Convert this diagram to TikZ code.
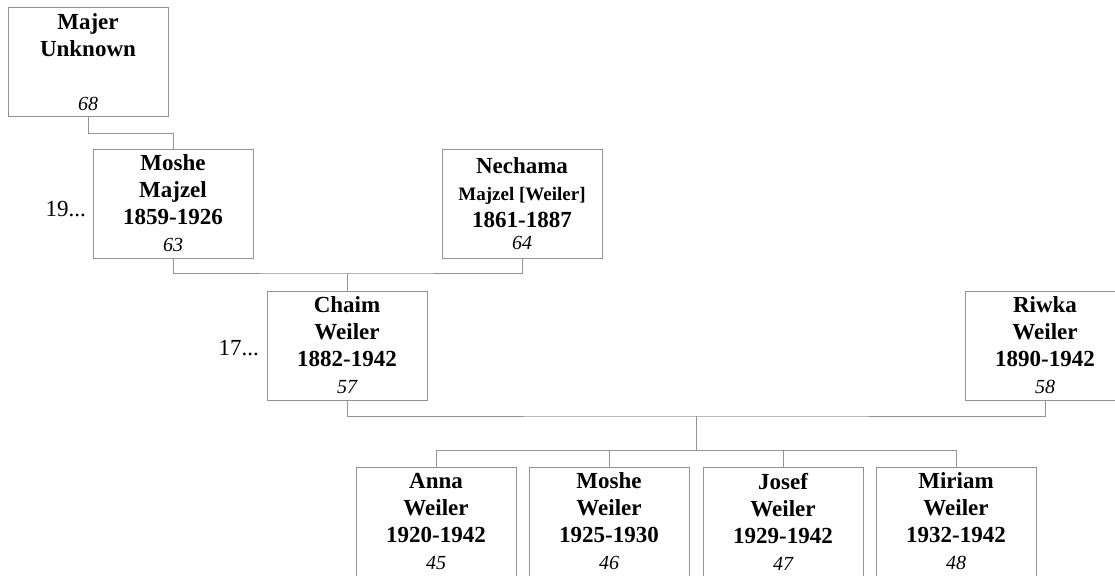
\documentclass[tikz,border=0pt]{standalone}
\usepackage{fontspec}
\setmainfont{Liberation Serif}
\usetikzlibrary{positioning}

\tikzset{
	person/.style={draw=gray!85,line width=1pt,minimum width=160pt,minimum height=109pt,
		inner sep=0pt,align=center,font=\fontsize{23}{27}\selectfont\bfseries},
	link/.style={draw=gray!85,line width=1pt},
	gen/.style={font=\fontsize{23}{27}\selectfont}
}
\newcommand{\num}[1]{\fontsize{20}{27}\selectfont\mdseries\itshape #1}

\begin{document}
\begin{tikzpicture}[x=1pt,y=-1pt]
		\clip (0,0) rectangle (1115,575);
		\useasboundingbox (0,0) rectangle (1115,575);
		\node[person] (MU) at (88,62.5) {Majer\\Unknown\\ \\\num{68}};
		\node[person] (MM) at (173,203.5) {Moshe\\Majzel\\1859-1926\\\num{63}};
		\node[person] (NM) at (522,204) {Nechama\\{\fontsize{19}{25}\selectfont Majzel [Weiler]}\\1861-1887\\[-5pt]\num{64}};
		\node[person] (CW) at (347,345.5) {Chaim\\Weiler\\1882-1942\\\num{57}};
		\node[person] (RW) at (1045,345.5) {Riwka\\Weiler\\1890-1942\\\num{58}};
		\node[person] (AW) at (436,521.5) {Anna\\Weiler\\1920-1942\\\num{45}};
		\node[person] (MW) at (609,521.5) {Moshe\\Weiler\\1925-1930\\\num{46}};
		\node[person] (JW) at (783,521.5) {Josef\\Weiler\\1929-1942\\\num{47}};
		\node[person] (MiW) at (956,521.5) {Miriam\\Weiler\\1932-1942\\\num{48}};
		\node[gen,left=3pt of MM,yshift=-6pt] (g19) {19...};
		\node[gen,left=4pt of CW,yshift=-3pt] (g17) {17...};
		%
		\coordinate (u1) at (88,133);
		\coordinate (p1) at (347,273);
		\coordinate (p2) at (696,416);
		\coordinate (c1) at (696,450);
		\path[link]
		(MU.south) -- (u1) -| (MM.north)
		(MM.south) |- (p1) -| (NM.south)
		(p1) -- (CW.north)
		(CW.south) |- (p2) -| (RW.south)
		(p2) -- (c1)
		(c1) -| (AW.north)
		(c1) -| (MW.north)
		(c1) -| (JW.north)
		(c1) -| (MiW.north);
	\end{tikzpicture}
\end{document}
